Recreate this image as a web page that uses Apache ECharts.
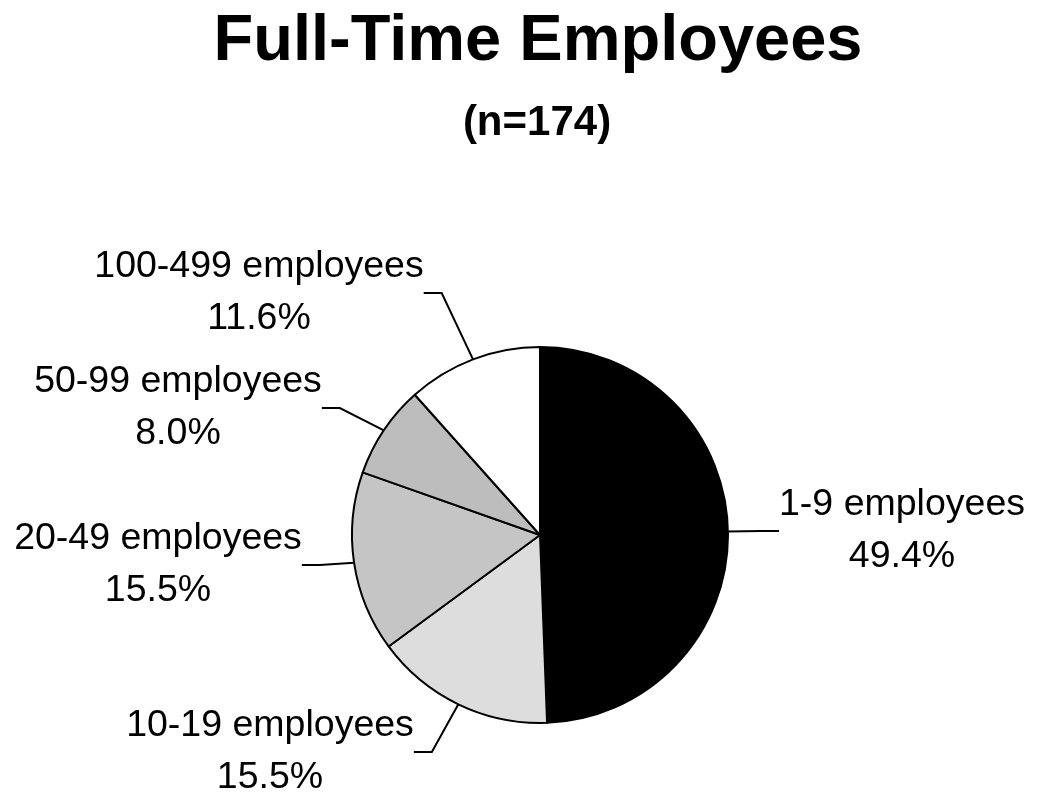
<!DOCTYPE html>
<html>
<head>
<meta charset="utf-8">
<title>Full-Time Employees</title>
<script src="https://cdn.jsdelivr.net/npm/echarts@6/dist/echarts.min.js"></script>
<style>
  html, body { margin: 0; padding: 0; background: #fff; }
  #chart { width: 1039px; height: 797px; }
</style>
</head>
<body>
<div id="chart"></div>
<script>
// data (percent of respondents)
var categories = ['1-9 employees', '10-19 employees', '20-49 employees', '50-99 employees', '100-499 employees'];
var shares = [49.4, 15.5, 15.5, 8.0, 11.6];
var sliceColors = ['#000000', '#dddddd', '#c5c5c5', '#bdbdbd', '#ffffff'];

// where each label block sits (centre of the two text lines)
var labelSpots = [[902, 531], [270, 752], [158, 565], [178, 408], [259, 293]];

var font = 'Arial, "Liberation Sans", Helvetica, sans-serif';

var chartDom = document.getElementById('chart');
var myChart = echarts.init(chartDom);

var option = {
    backgroundColor: '#fff',
    animation: false,
    title: [
        {
            text: 'Full-Time Employees',
            // headings are centred over the pie, not the canvas
            left: 538,
            textAlign: 'center',
            top: 9,
            padding: 0,
            textStyle: { fontFamily: font, fontSize: 65, fontWeight: 'bold', color: '#000', lineHeight: 66 }
        },
        {
            text: '(n=174)',
            left: 537,
            textAlign: 'center',
            top: 102,
            padding: 0,
            textStyle: { fontFamily: font, fontSize: 42, fontWeight: 'bold', color: '#000', lineHeight: 42 }
        }
    ],
    series: [
        {
            type: 'pie',
            center: [540, 535],
            radius: 188,
            startAngle: 90,
            clockwise: true,
            avoidLabelOverlap: false,
            emphasis: { disabled: true },
            itemStyle: { borderColor: '#000', borderWidth: 2 },
            label: {
                show: true,
                position: 'outside',
                formatter: function (p) {
                    return p.name + '\n' + p.value.toFixed(1) + '%';
                },
                fontFamily: font,
                fontSize: 37.5,
                lineHeight: 52,
                color: '#000',
                align: 'center'
            },
            labelLine: {
                show: true,
                length: 20,
                length2: 18,
                lineStyle: { color: '#000', width: 2 }
            },
            labelLayout: function (params) {
                var spot = labelSpots[params.dataIndex];
                return {
                    x: spot[0],
                    y: spot[1],
                    align: 'center',
                    verticalAlign: 'middle'
                };
            },
            data: categories.map(function (name, i) {
                return { name: name, value: shares[i], itemStyle: { color: sliceColors[i] } };
            })
        }
    ]
};

option && myChart.setOption(option);
</script>
</body>
</html>
